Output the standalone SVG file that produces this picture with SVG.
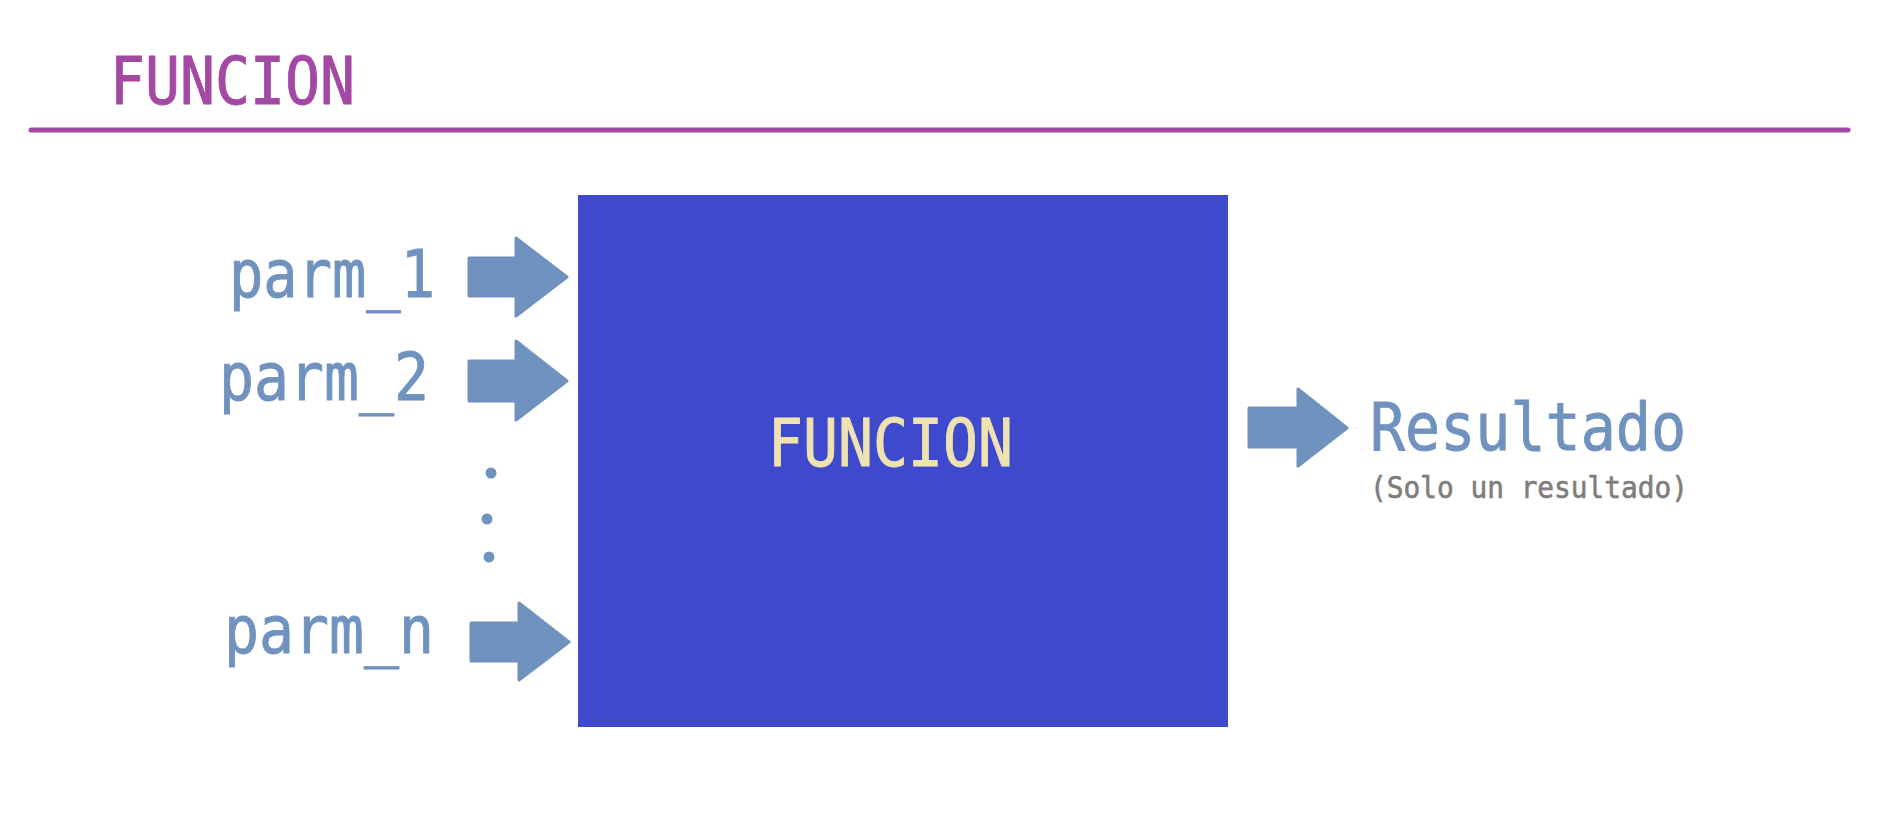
<svg xmlns="http://www.w3.org/2000/svg" width="1886" height="835" viewBox="0 0 1886 835">
<style>
.mono{font-family:"DejaVu Sans Mono","Liberation Mono",monospace;}
.big{font-size:65px;stroke-width:0.9px;}
.parm{fill:#7092BE;stroke:#7092BE;}
.arrow{fill:#7092BE;stroke:#7092BE;stroke-width:3;stroke-linejoin:round;}
</style>
<rect width="1886" height="835" fill="#ffffff"/>
<g id="title">
<text class="mono big" x="110" y="104" fill="#A349A4" stroke="#A349A4" textLength="245" lengthAdjust="spacingAndGlyphs">FUNCION</text>
<line x1="31" y1="130" x2="1848" y2="130" stroke="#A349A4" stroke-width="5" stroke-linecap="round"/>
</g>
<g id="funcion">
<rect x="578" y="195" width="650" height="532" fill="#3F49CC"/>
<text class="mono big" x="768" y="466" fill="#EEE3B0" stroke="#EEE3B0" textLength="245" lengthAdjust="spacingAndGlyphs">FUNCION</text>
</g>
<g id="parm_1"><text class="mono big parm" x="229" y="297" textLength="206" lengthAdjust="spacingAndGlyphs">parm_1</text></g>
<g id="parm_2"><text class="mono big parm" x="219" y="400" textLength="210" lengthAdjust="spacingAndGlyphs">parm_2</text></g>
<g id="dots">
<circle cx="491" cy="473" r="5.5" fill="#7092BE"/>
<circle cx="487" cy="519" r="5.5" fill="#7092BE"/>
<circle cx="489" cy="557" r="5.5" fill="#7092BE"/>
</g>
<g id="parm_n"><text class="mono big parm" x="224" y="653" textLength="210" lengthAdjust="spacingAndGlyphs">parm_n</text></g>
<g id="resultado">
<text class="mono big parm" x="1370" y="450" textLength="316" lengthAdjust="spacingAndGlyphs">Resultado</text>
<text class="mono" x="1370" y="498" font-size="30" fill="#807C7C" stroke="#807C7C" stroke-width="0.6" textLength="318" lengthAdjust="spacingAndGlyphs">(Solo un resultado)</text>
</g>
<g id="connectors">
<path class="arrow" d="M469,258 H516 V238 L567,277 L516,316 V296 H469 Z"/>
<path class="arrow" d="M469,361 H516 V341 L567,381 L516,420 V401 H469 Z"/>
<path class="arrow" d="M471,623 H519 V603 L569,642 L519,680 V661 H471 Z"/>
<path class="arrow" d="M1249,408 H1298 V389 L1347,428 L1298,466 V447 H1249 Z"/>
</g>
</svg>
